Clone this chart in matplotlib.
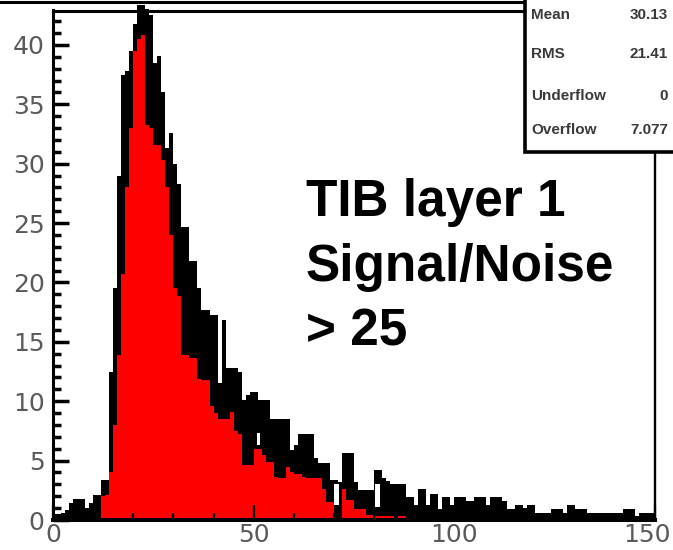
import numpy as np
import matplotlib
matplotlib.use("Agg")
import matplotlib.pyplot as plt
import matplotlib.transforms as mtransforms
from matplotlib.lines import Line2D
from matplotlib.patches import Rectangle


# histogram range (1 unit bins)
bin_lo, bin_hi, n_bins = 0, 150, 150

# black histogram (upper envelope of the thick noisy line)
black_counts = [
    0.5, 0.5, 0.6, 0.8, 1.4, 1.8, 1.8, 1.8, 1.0, 1.4,
    2.1, 2.1, 3.4, 3.4, 12.5, 19.5, 29.0, 37.5, 37.8, 39.5,
    41.8, 43.4, 43.4, 43.0, 42.5, 38.5, 39.1, 36.0, 31.3, 32.6,
    30.0, 28.3, 24.7, 24.7, 21.8, 21.8, 19.5, 17.7, 17.7, 17.3,
    17.3, 11.5, 16.8, 12.8, 12.8, 12.8, 12.5, 10.1, 10.5, 10.8,
    10.8, 10.1, 10.1, 10.1, 8.5, 8.5, 8.5, 8.5, 8.5, 5.9,
    6.3, 7.2, 7.2, 7.2, 7.2, 5.2, 4.8, 4.8, 4.8, 3.4,
    3.4, 3.2, 5.6, 5.6, 5.6, 3.2, 2.5, 2.5, 2.5, 2.5,
    4.2, 4.2, 3.5, 3.3, 3.0, 3.0, 3.0, 3.0, 1.9, 1.9,
    1.3, 2.6, 2.6, 1.3, 2.2, 2.2, 0.9, 1.9, 1.9, 1.3,
    1.9, 1.9, 1.9, 1.6, 1.6, 1.9, 1.9, 1.9, 1.3, 1.9,
    1.9, 1.9, 1.6, 0.9, 0.9, 1.3, 1.3, 1.0, 1.3, 1.3,
    0.6, 0.6, 0.6, 0.6, 0.9, 0.9, 0.9, 0.6, 1.3, 1.3,
    0.9, 0.9, 0.9, 0.6, 0.6, 0.6, 0.6, 0.6, 0.6, 0.6,
    0.6, 0.6, 0.9, 0.9, 0.9, 0.3, 0.6, 0.6, 0.6, 0.6,
]

# red filled histogram
red_counts = [
    0, 0, 0, 0, 0, 0, 0, 0, 0, 0,
    0, 0, 2.0, 2.1, 4.0, 8.0, 13.9, 20.7, 28.0, 33.0,
    39.5, 40.5, 40.8, 33.3, 33.0, 31.6, 31.6, 30.3, 28.0, 24.0,
    19.5, 18.9, 13.9, 13.9, 13.6, 13.6, 11.9, 11.8, 11.8, 9.6,
    9.0, 8.5, 8.5, 8.5, 9.1, 7.5, 7.2, 4.6, 4.6, 4.6,
    6.0, 6.0, 5.5, 4.9, 4.9, 3.6, 3.5, 3.5, 4.5, 4.0,
    3.9, 3.9, 3.6, 3.5, 3.5, 3.5, 3.5, 2.6, 1.5, 1.5,
    0, 0, 2.6, 1.7, 1.7, 0.9, 0.9, 0.9, 0.4, 0.4,
    0.3, 0.3, 0.3, 0.3, 0.3, 0, 0.3, 0.3, 0, 0,
] + [0] * 60

# white gaps left inside the black band (x from, x to, y from, y to)
gap_x0 = [70.1, 80.2, 50.9]
gap_x1 = [71.3, 81.4, 51.6]
gap_y0 = [1.3, 1.1, 6.3]
gap_y1 = [3.0, 3.0, 7.3]

x_major = [0, 50, 100, 150]
y_major = [0, 5, 10, 15, 20, 25, 30, 35, 40]

stats_names = ["Mean", "RMS", "Underflow", "Overflow"]
stats_values = ["30.13", "21.41", "0", "7.077"]

label_lines = ["TIB layer 1", "Signal/Noise", "> 25"]

W, H = 673, 550
fig = plt.figure(figsize=(W / 100, H / 100), dpi=100)
ax = fig.add_axes([53 / W, 1 - 520 / H, (655 - 53) / W, (520 - 10.5) / H])

edges = np.linspace(bin_lo, bin_hi, n_bins + 1)
ax.stairs(black_counts, edges, fill=True, color="black", clip_on=False, zorder=1)
for x0, x1, y0, y1 in zip(gap_x0, gap_x1, gap_y0, gap_y1):
    ax.stairs([y1], [x0, x1], baseline=y0, fill=True, color="white", zorder=1.2)
ax.stairs(red_counts, edges, fill=True, color="red", zorder=1.5)

ax.set_xlim(bin_lo, bin_hi)
ax.set_ylim(0, 42.9)
ax.set_xticks(x_major)
ax.set_xticks(np.arange(bin_lo, bin_hi + 1, 10), minor=True)
ax.set_yticks(y_major)
ax.set_yticks(np.arange(0, 43, 1), minor=True)

ax.tick_params(axis="y", which="major", direction="in", length=11.5, width=2.5, pad=6)
ax.tick_params(axis="y", which="minor", direction="in", length=5.8, width=2.5)
ax.tick_params(axis="x", which="major", direction="in", length=11, width=1.6, pad=2.5)
ax.tick_params(axis="x", which="minor", direction="in", length=5, width=1.6)
for lab in ax.get_xticklabels() + ax.get_yticklabels():
    lab.set_fontfamily(["Liberation Sans Narrow", "DejaVu Sans Condensed", "DejaVu Sans"])
    lab.set_fontsize(18)
    lab.set_color("#5a5a5a")

# last x label sits at the canvas edge; nudge it inside
last = ax.get_xticklabels()[-1]
last.set_transform(last.get_transform() +
                   mtransforms.ScaledTranslation(-8 / 100, 0, fig.dpi_scale_trans))

ax.spines["left"].set_linewidth(2.2)
ax.spines["bottom"].set_linewidth(2.9)
ax.spines["top"].set_linewidth(2.2)
ax.spines["right"].set_linewidth(1.7)

# line at the very top of the canvas (title pad border)
fig.add_artist(Line2D([0, 525 / W], [1 - 1.5 / H, 1 - 1.5 / H], color="black", lw=2.2))

# stats box
fig.patches.append(Rectangle((525 / W, 1 - 152 / H), 1, 1, transform=fig.transFigure,
                             facecolor="white", edgecolor="black", lw=2.6, zorder=3))
row_y = [15, 54, 96, 130]
for name, val, yy in zip(stats_names, stats_values, row_y):
    fig.text(531 / W, 1 - yy / H, name, fontsize=11, color="#3a3a3a", va="center",
             ha="left", family="Liberation Sans", weight="bold", zorder=4)
    fig.text(668 / W, 1 - yy / H, val, fontsize=11, color="#3a3a3a", va="center",
             ha="right", family="Liberation Sans", weight="bold", zorder=4)

for line, base in zip(label_lines, [216, 281, 345]):
    fig.text(306 / W, 1 - base / H, line, fontsize=37, weight="bold",
             family="Liberation Sans", va="baseline", ha="left", zorder=4)

fig.savefig("out.png", dpi=100)
